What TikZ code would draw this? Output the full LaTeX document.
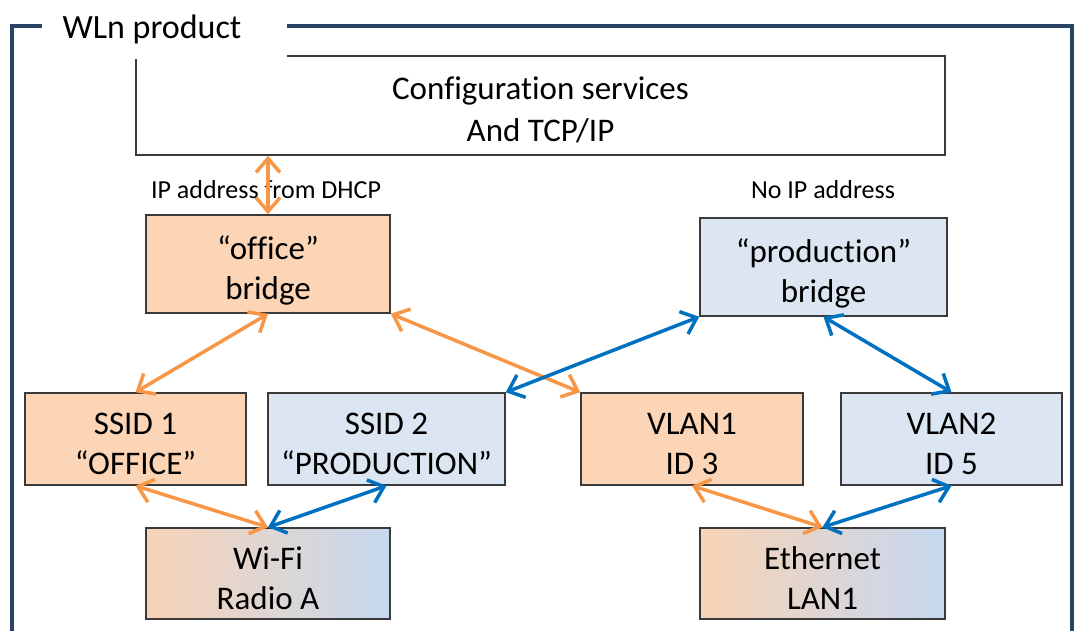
\documentclass[tikz,border=0pt]{standalone}
\usepackage{fontspec}
\setmainfont[Ligatures=NoCommon]{Carlito}
\usetikzlibrary{arrows.meta}
\definecolor{frameblue}{HTML}{2A4465}
\definecolor{orfill}{HTML}{FBD5B5}
\definecolor{blfill}{HTML}{DCE6F2}
\definecolor{orline}{HTML}{F79646}
\definecolor{blline}{HTML}{0070C0}
\definecolor{boxline}{HTML}{3A3A3A}
\definecolor{gradL}{HTML}{F8D3B6}
\definecolor{gradR}{HTML}{C5D8EF}
\tikzset{
  box/.style={draw=boxline, line width=1.5pt, align=center, inner sep=0pt,
    font=\fontsize{33}{40}\selectfont, text=black, text height=75pt, text depth=4pt},
  orbox/.style={box, fill=orfill},
  blbox/.style={box, fill=blfill},
  gradbox/.style={box, left color=gradL, right color=gradR},
  orarrow/.style={draw=orline, line width=3.5pt, {Straight Barb[length=14pt,width=24pt]}-{Straight Barb[length=14pt,width=24pt]}},
  blarrow/.style={draw=blline, line width=3.5pt, {Straight Barb[length=14pt,width=24pt]}-{Straight Barb[length=14pt,width=24pt]}},
  lbl/.style={font=\fontsize{26}{30}\selectfont, inner sep=0pt}
}
\begin{document}
\begin{tikzpicture}[x=1pt,y=-1pt]
\useasboundingbox (0,0) rectangle (1079,630);
% frame
\draw[frameblue, line width=4pt] (12,640) -- (12,26) -- (1072,26) -- (1072,640);
% configuration box
\node[box, minimum width=809pt, minimum height=99pt, fill=white,
  font=\fontsize{33}{42}\selectfont] (cfg) at (540.5,105.5)
  {Configuration services\\And TCP/IP};
% title covering
\node[fill=white, inner sep=0pt, minimum width=245pt, minimum height=60pt] (title) at (164,29) {};
\node[font=\fontsize{34}{40}\selectfont, inner sep=0pt] (titletext) at (152,29) {WLn product};
% bridges
\node[orbox, minimum width=244pt, minimum height=98pt] (office) at (268,264) {“office”\\bridge};
\node[blbox, minimum width=247pt, minimum height=98pt] (prod) at (823.5,267) {“production”\\bridge};
% ssids / vlans
\node[orbox, minimum width=221pt, minimum height=92pt] (ssid1) at (135.5,439) {SSID 1\\“OFFICE”};
\node[blbox, minimum width=237pt, minimum height=92pt] (ssid2) at (386.5,439) {SSID 2\\“PRODUCTION”};
\node[orbox, minimum width=222pt, minimum height=92pt] (vlan1) at (692,439) {VLAN1\\ID 3};
\node[blbox, minimum width=221pt, minimum height=92pt] (vlan2) at (951.5,439) {VLAN2\\ID 5};
% interfaces
\node[gradbox, minimum width=244pt, minimum height=91pt] (wifi) at (268,573.5) {Wi-Fi\\Radio A};
\node[gradbox, minimum width=245pt, minimum height=91pt] (eth) at (822.5,573.5) {Ethernet\\LAN1};
% labels
\node[lbl] (dhcp) at (266,190) {IP address from DHCP};
\node[lbl] (noip) at (823,190) {No IP address};
% arrows
\coordinate (cfgdown) at (office.north |- cfg.south);
\draw[orarrow] (cfgdown) -- (office.north);
\draw[orarrow] (office.south) -- (ssid1.north);
\draw[orarrow] (office.south east) -- (vlan1.north west);
\draw[blarrow] (prod.south west) -- (ssid2.north east);
\draw[blarrow] (prod.south) -- (vlan2.north);
\draw[orarrow] (ssid1.south) -- (wifi.north);
\draw[blarrow] (ssid2.south) -- (wifi.north);
\draw[orarrow] (vlan1.south) -- (eth.north);
\draw[blarrow] (vlan2.south) -- (eth.north);
\end{tikzpicture}
\end{document}
